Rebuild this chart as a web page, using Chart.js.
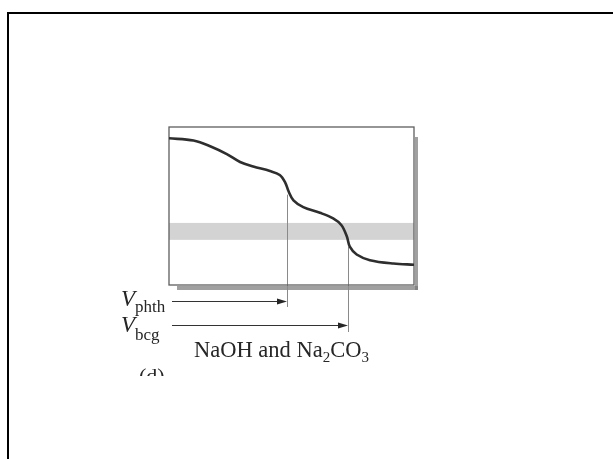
<!DOCTYPE html>
<html>
<head>
<meta charset="utf-8">
<script src="https://cdn.jsdelivr.net/npm/chart.js@4/dist/chart.umd.min.js"></script>
<style>
  html, body { margin: 0; padding: 0; background: #fff; }
  #frame { position: absolute; left: 7px; top: 12px; width: 620px; height: 460px;
           border-top: 2px solid #000; border-left: 2px solid #000; }
  #plot { position: absolute; left: 0; top: 0; }
</style>
</head>
<body>
<div id="frame"></div>
<canvas id="plot" width="613" height="459"></canvas>
<script>
  // titration of a NaOH + Na2CO3 mixture
  const volumeMl = [0, 5.0, 8.4, 11.8, 14.5, 17.2, 20.6, 22.6, 23.7, 24.4, 25.4, 27.4, 30.8, 33.5, 35.2, 36.3, 36.9, 38.3, 41.0, 45.8, 50.0];
  const pH       = [13.0, 12.8, 12.3, 11.6, 10.9, 10.5, 10.1, 9.75, 9.1, 8.3, 7.5, 6.9, 6.4, 5.9, 5.3, 4.3, 3.4, 2.7, 2.2, 1.9, 1.8];

  // endpoints: phenolphthalein and bromocresol green
  const endpointNames = ['phth', 'bcg'];
  const endpointVolumes = [24.1, 36.5];
  const endpointTopPh = [8.0, 3.4];

  // bromocresol green transition range
  const bcgBand = [4.0, 5.5];

  const ink = '#262626';
  const serif = '"Liberation Serif", "DejaVu Serif", serif';

  const decor = {
    id: 'decor',
    beforeDatasetsDraw(chart) {
      const { ctx, chartArea: a, scales: { x, y } } = chart;
      ctx.save();
      // drop shadow of the frame
      ctx.filter = 'blur(0.7px)';
      ctx.fillStyle = 'rgba(120,120,120,0.7)';
      ctx.fillRect(a.left + 8, a.bottom + 1, a.width - 4, 4);
      ctx.fillRect(a.right + 1, a.top + 10, 3, a.height - 5);
      ctx.filter = 'none';

      // indicator band
      const b0 = y.getPixelForValue(bcgBand[1]);
      const b1 = y.getPixelForValue(bcgBand[0]);
      ctx.fillStyle = '#d3d3d3';
      ctx.fillRect(a.left, b0, a.width, b1 - b0);

      // endpoint drop lines
      ctx.strokeStyle = '#8a8a8a';
      ctx.lineWidth = 1;
      const ends = [22, 47];
      endpointVolumes.forEach((v, i) => {
        const px = Math.round(x.getPixelForValue(v)) + 0.5;
        ctx.beginPath();
        ctx.moveTo(px, y.getPixelForValue(endpointTopPh[i]));
        ctx.lineTo(px, a.bottom + ends[i]);
        ctx.stroke();
      });

      // plot frame
      ctx.strokeStyle = '#5e5e5e';
      ctx.lineWidth = 1.3;
      ctx.strokeRect(a.left, a.top, a.width, a.height);
      ctx.restore();
    },
    afterDatasetsDraw(chart) {
      const { ctx, chartArea: a, scales: { x } } = chart;
      ctx.save();
      ctx.fillStyle = ink;
      ctx.strokeStyle = '#333';
      ctx.lineWidth = 1;

      // volume arrows
      const rows = [16, 40];
      endpointVolumes.forEach((v, i) => {
        const tip = Math.round(x.getPixelForValue(v));
        const yy = a.bottom + rows[i] + 0.5;
        ctx.beginPath();
        ctx.moveTo(a.left + 3, yy);
        ctx.lineTo(tip - 6, yy);
        ctx.stroke();
        ctx.beginPath();
        ctx.moveTo(tip, yy);
        ctx.lineTo(tip - 10, yy - 3);
        ctx.lineTo(tip - 10, yy + 3);
        ctx.closePath();
        ctx.fill();
      });

      // V labels
      const vBase = [306, 331.5];
      const subBase = [312, 340];
      endpointNames.forEach((name, i) => {
        ctx.font = 'italic 23px ' + serif;
        ctx.fillText('V', 121, vBase[i]);
        ctx.font = '17px ' + serif;
        ctx.fillText(name, 135, subBase[i]);
      });

      // caption
      const parts = [['NaOH and Na', 22.5, 0], ['2', 15, 5], ['CO', 22.5, 0], ['3', 15, 5]];
      let cx = 194;
      parts.forEach(([t, size, drop]) => {
        ctx.font = size + 'px ' + serif;
        ctx.fillText(t, cx, 357 + drop);
        cx += ctx.measureText(t).width;
      });

      // panel tag, cut off at the bottom
      ctx.beginPath();
      ctx.rect(100, 360, 100, 16);
      ctx.clip();
      ctx.font = '22px ' + serif;
      ctx.fillText('(d)', 139, 383);
      ctx.restore();
    }
  };

  new Chart(document.getElementById('plot'), {
    type: 'line',
    data: {
      datasets: [{
        data: volumeMl.map((v, i) => ({ x: v, y: pH[i] })),
        borderColor: '#2e2e2e',
        borderWidth: 2.6,
        pointRadius: 0,
        tension: 0.35,
        fill: false
      }]
    },
    options: {
      responsive: false,
      devicePixelRatio: 1,
      animation: false,
      layout: { padding: { left: 169, top: 127, right: 199, bottom: 174 } },
      plugins: { legend: { display: false }, tooltip: { enabled: false } },
      scales: {
        x: { type: 'linear', min: 0, max: 50, display: false },
        y: { min: 0, max: 14, display: false }
      }
    },
    plugins: [decor]
  });
</script>
</body>
</html>
